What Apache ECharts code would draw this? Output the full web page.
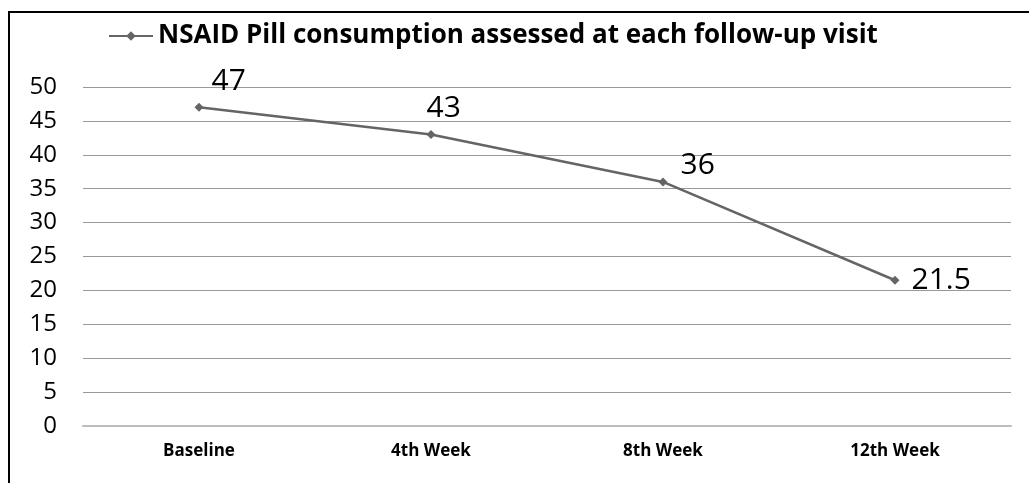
<!DOCTYPE html>
<html>
<head>
<meta charset="utf-8">
<script src="https://cdn.jsdelivr.net/npm/echarts@6/dist/echarts.min.js"></script>
<style>
  html, body { margin: 0; padding: 0; background: #fff; overflow: hidden; }
  #frame { position: absolute; left: 8px; top: 11px; width: 1040px; height: 490px; border: 2px solid #000; box-sizing: border-box; }
  #chart { position: absolute; left: 0; top: 0; width: 1029px; height: 483px; }
</style>
</head>
<body>
<div id="frame"></div>
<div id="chart"></div>
<script>
  // chart data
  const categories = ["Baseline", "4th Week", "8th Week", "12th Week"];
  const pillValues = [47, 43, 36, 21.5];
  const seriesName = "NSAID Pill consumption assessed at each follow-up visit";
  // label nudges per point
  const labelOffsets = [[8, -26], [-9, -26], [13, -16], [12, 0]];

  const chart = echarts.init(document.getElementById("chart"));

  const seriesData = pillValues.map((v, i) => ({
    value: v,
    label: { offset: labelOffsets[i] },
  }));

  chart.setOption({
    backgroundColor: "transparent",
    animation: false,
    textStyle: { fontFamily: "Open Sans" },
    legend: {
      top: 18,
      left: 103,
      itemWidth: 44,
      itemHeight: 12,
      itemGap: 4,
      textStyle: { fontSize: 26, fontWeight: "bold", color: "#000", fontFamily: "Open Sans" },
      data: [seriesName],
    },
    grid: { left: 83, right: 18, top: 87, bottom: 57 },
    xAxis: {
      type: "category",
      data: categories,
      boundaryGap: true,
      axisLine: { show: true, lineStyle: { color: "#bdbdbd", width: 2 } },
      axisTick: { show: false },
      axisLabel: { color: "#000", fontSize: 17, fontWeight: "bold", margin: 17 },
    },
    yAxis: {
      type: "value",
      min: 0,
      max: 50,
      interval: 5,
      axisLine: { show: false },
      axisTick: { show: false },
      axisLabel: { color: "#000", fontSize: 24, margin: 26 },
      splitLine: { lineStyle: { color: "#999", width: 1 } },
    },
    series: [
      {
        name: seriesName,
        type: "line",
        data: seriesData,
        symbol: "diamond",
        symbolSize: 9,
        color: "#656565",
        lineStyle: { color: "#656565", width: 2.5 },
        itemStyle: { color: "#656565" },
        label: {
          show: true,
          position: "right",
          distance: 0,
          fontSize: 30,
          color: "#000",
          fontFamily: "Open Sans",
        },
      },
    ],
  });
</script>
</body>
</html>
